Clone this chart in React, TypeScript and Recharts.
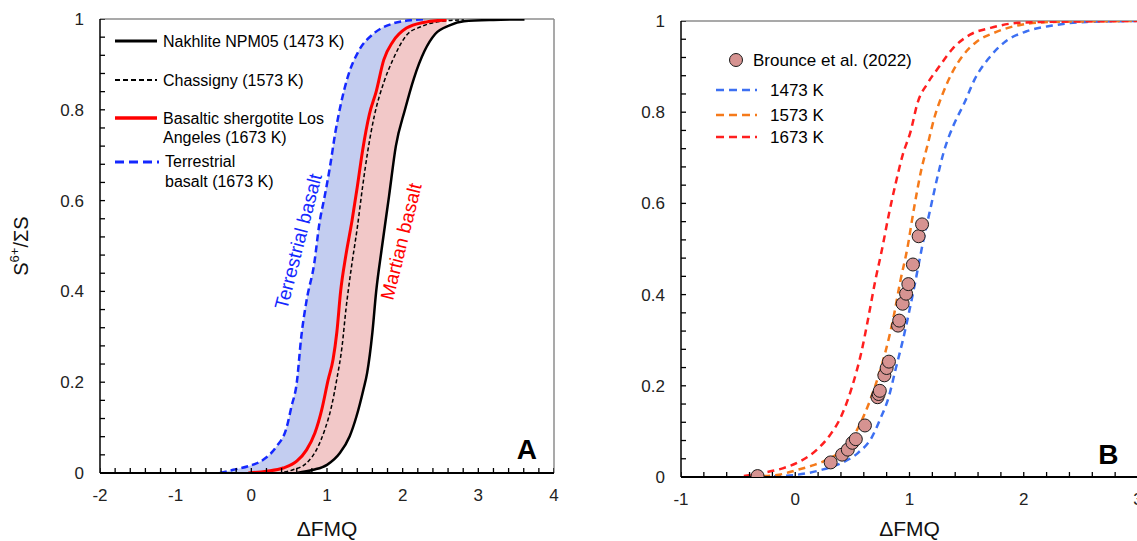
import React from "react";
import {
  ComposedChart,
  Line,
  Area,
  Scatter,
  XAxis,
  YAxis,
  ReferenceLine,
  ReferenceDot,
  Legend,
  Label,
} from "recharts";

const font = '"Liberation Sans", Arial, Helvetica, sans-serif';

// panel A curves, [ΔFMQ, S6+/ΣS]
const nakhlite = [
  [0.6, 0], [0.82, 0.007], [1.0, 0.018], [1.17, 0.044], [1.3, 0.081], [1.39, 0.125],
  [1.48, 0.183], [1.53, 0.22], [1.6, 0.31], [1.65, 0.4], [1.72, 0.49], [1.82, 0.61],
  [1.91, 0.72], [2.03, 0.8], [2.15, 0.87], [2.29, 0.93], [2.43, 0.967], [2.62, 0.986],
  [2.81, 0.995], [3.2, 0.998], [3.61, 0.999],
];
const chassigny = [
  [0.35, 0], [0.55, 0.007], [0.73, 0.022], [0.86, 0.051], [0.97, 0.095], [1.06, 0.147],
  [1.13, 0.207], [1.2, 0.28], [1.25, 0.36], [1.32, 0.45], [1.4, 0.54], [1.47, 0.63],
  [1.54, 0.71], [1.63, 0.79], [1.75, 0.86], [1.87, 0.91], [2.05, 0.964], [2.24, 0.983],
  [2.58, 0.996], [2.81, 0.998],
];
const losAngeles = [
  [-0.04, 0], [0.2, 0.004], [0.42, 0.011], [0.6, 0.026], [0.73, 0.051], [0.84, 0.088],
  [0.93, 0.139], [1.015, 0.205], [1.08, 0.25], [1.13, 0.31], [1.18, 0.4], [1.25, 0.48],
  [1.33, 0.555], [1.4, 0.63], [1.47, 0.71], [1.56, 0.79], [1.65, 0.84], [1.75, 0.91],
  [1.87, 0.95], [2.05, 0.98], [2.29, 0.993], [2.58, 0.998],
];
const terrestrial = [
  [-0.415, 0], [-0.24, 0.007], [-0.02, 0.016], [0.157, 0.029], [0.33, 0.058], [0.466, 0.1],
  [0.53, 0.146], [0.6, 0.198], [0.66, 0.3], [0.73, 0.38], [0.83, 0.46], [0.9, 0.55],
  [0.97, 0.61], [1.04, 0.675], [1.11, 0.75], [1.18, 0.81], [1.27, 0.87], [1.42, 0.93],
  [1.61, 0.967], [1.87, 0.99], [2.15, 0.998], [2.3, 1],
];

// panel B
const k1473 = [
  [-0.29, 0.001], [-0.02, 0.004], [0.22, 0.015], [0.4, 0.03], [0.55, 0.053], [0.67, 0.087],
  [0.74, 0.125], [0.82, 0.177], [0.88, 0.238], [0.94, 0.298], [1.0, 0.366], [1.06, 0.44],
  [1.12, 0.517], [1.18, 0.585], [1.24, 0.653], [1.3, 0.713], [1.39, 0.774], [1.48, 0.82],
  [1.57, 0.872], [1.69, 0.917], [1.84, 0.955], [2.02, 0.977], [2.25, 0.99], [2.55, 0.998],
  [3, 1],
];
const k1573 = [
  [-0.28, 0.002], [-0.14, 0.005], [0.01, 0.015], [0.16, 0.026], [0.28, 0.038], [0.4, 0.057],
  [0.52, 0.094], [0.61, 0.14], [0.7, 0.2], [0.79, 0.275], [0.86, 0.35], [0.92, 0.43],
  [0.98, 0.5], [1.04, 0.59], [1.1, 0.67], [1.16, 0.73], [1.22, 0.79], [1.29, 0.84],
  [1.38, 0.89], [1.47, 0.925], [1.59, 0.955], [1.74, 0.974], [1.98, 0.992], [2.25, 0.998],
  [3, 1],
];
const k1673 = [
  [-0.45, 0.002], [-0.26, 0.01], [-0.11, 0.019], [0.04, 0.034], [0.19, 0.06], [0.31, 0.094],
  [0.4, 0.132], [0.5, 0.2], [0.58, 0.275], [0.64, 0.35], [0.7, 0.43], [0.76, 0.5],
  [0.82, 0.577], [0.88, 0.645], [0.94, 0.706], [1.01, 0.758], [1.07, 0.82], [1.16, 0.864],
  [1.26, 0.9], [1.38, 0.94], [1.53, 0.97], [1.71, 0.985], [1.95, 0.996], [2.19, 0.998],
  [3, 1],
];
const brounce = [
  [-0.33, 0.002], [0.31, 0.032], [0.41, 0.049], [0.46, 0.06], [0.5, 0.075], [0.53, 0.083],
  [0.61, 0.113], [0.72, 0.175], [0.73, 0.182], [0.74, 0.189], [0.78, 0.223], [0.8, 0.239],
  [0.82, 0.253], [0.9, 0.332], [0.91, 0.343], [0.94, 0.38], [0.97, 0.402], [0.99, 0.423],
  [1.03, 0.466], [1.08, 0.528], [1.11, 0.554],
];

const yMajor = [0, 0.2, 0.4, 0.6, 0.8, 1];
const xMajorA = [-2, -1, 0, 1, 2, 3, 4];
const xMajorB = [-1, 0, 1, 2, 3];

const legendA = ["Nakhlite NPM05 (1473 K)", "Chassigny (1573 K)", "Basaltic shergotite Los", "Angeles (1673 K)", "Terrestrial", "basalt (1673 K)"];
const legendB = ["Brounce et al. (2022)", "1473 K", "1573 K", "1673 K"];

const pts = (a: number[][]) => a.map(([x, y]) => ({ x, y }));

// minor ticks between majors
const withMinor = (majors: number[], n: number) => {
  const out: number[] = [];
  for (let i = 0; i < majors.length - 1; i++) {
    const step = (majors[i + 1] - majors[i]) / n;
    for (let k = 0; k < n; k++) out.push(majors[i] + k * step);
  }
  out.push(majors[majors.length - 1]);
  return out;
};
const isIn = (v: number, list: number[]) => list.some((m) => Math.abs(m - v) < 1e-6);
const fmt = (v: number) => String(Math.round(v * 10) / 10);

// inward tick marks, placed through the chart scales
const xMarks = (majors: number[]) => withMinor(majors, 5).map((x) => ({ x, y: 0 }));
const yMarks = (x0: number) => withMinor(yMajor, 5).map((y) => ({ x: x0, y }));
const xMarkShape = (p: any) => <path d={`M${p.cx},${p.cy}V${p.cy - 5}`} stroke="#000" strokeWidth={1.3} fill="none" />;
const yMarkShape = (p: any) => <path d={`M${p.cx},${p.cy}H${p.cx + 5}`} stroke="#000" strokeWidth={1.3} fill="none" />;

const YTick = (p: any) => {
  const v = p.payload.value;
  if (!isIn(v, yMajor)) return <g />;
  return (
    <text x={Number(p.x) - 16} y={p.y} dy={6} textAnchor="end" fontSize={17} fill="#222" fontFamily={font}>
      {fmt(v)}
    </text>
  );
};

const makeXTick = (majors: number[]) => (p: any) => {
  const v = p.payload.value;
  if (!isIn(v, majors)) return <g />;
  return (
    <text x={p.x} y={p.y} dy={28} textAnchor="middle" fontSize={17} fill="#222" fontFamily={font}>
      {fmt(v)}
    </text>
  );
};

const yLabel = (props: any) => {
  const vb = props.viewBox;
  const cx = 21;
  const cy = vb.y + vb.height / 2;
  return (
    <text x={cx} y={cy} transform={`rotate(-90 ${cx} ${cy})`} textAnchor="middle" dominantBaseline="central" fontSize={20} fill="#111" fontFamily={font}>
      S<tspan dy={-7} fontSize={13}>6+</tspan>
      <tspan dy={7}>/ΣS</tspan>
    </text>
  );
};

const rotText = (text: string, color: string, angle: number, size: number) => (p: any) => (
  <text x={p.cx} y={p.cy} transform={`rotate(${angle} ${p.cx} ${p.cy})`} textAnchor="middle" dominantBaseline="central" fill={color} fontSize={size} fontFamily={font}>
    {text}
  </text>
);

const panelText = (text: string) => (p: any) => (
  <text x={p.cx} y={p.cy} textAnchor="middle" dominantBaseline="central" fontWeight="bold" fontSize={28} fill="#000" fontFamily={font}>
    {text}
  </text>
);

const LegendA = () => (
  <svg width={560} height={200} style={{ display: "block" }} fontFamily={font} fontSize={16}>
    <line x1={115} x2={157} y1={41} y2={41} stroke="#000" strokeWidth={3} />
    <text x={163} y={41} dominantBaseline="central">{legendA[0]}</text>
    <line x1={115} x2={157} y1={80} y2={80} stroke="#000" strokeWidth={2} strokeDasharray="5 3" />
    <text x={163} y={80} dominantBaseline="central">{legendA[1]}</text>
    <line x1={115} x2={157} y1={118} y2={118} stroke="#ff0000" strokeWidth={3.5} />
    <text x={163} y={118} dominantBaseline="central">{legendA[2]}</text>
    <text x={163} y={137} dominantBaseline="central">{legendA[3]}</text>
    <line x1={115} x2={159} y1={162} y2={162} stroke="#1428ff" strokeWidth={3} strokeDasharray="9 5" />
    <text x={165} y={161} dominantBaseline="central">{legendA[4]}</text>
    <text x={165} y={181} dominantBaseline="central">{legendA[5]}</text>
  </svg>
);

const bColors = ["#3d70f2", "#f57a1a", "#ff1f1f"];

const LegendB = () => (
  <svg width={580} height={160} style={{ display: "block" }} fontFamily={font} fontSize={17}>
    <circle cx={176} cy={60} r={6.5} fill="#d69391" stroke="#1a1a1a" strokeWidth={1} />
    <text x={193} y={60} dominantBaseline="central">{legendB[0]}</text>
    {[90, 115, 137].map((y, i) => (
      <g key={y}>
        <line x1={156} x2={197} y1={y} y2={y} stroke={bColors[i]} strokeWidth={2.5} strokeDasharray="8 5" />
        <text x={210} y={y} dominantBaseline="central">{legendB[i + 1]}</text>
      </g>
    ))}
  </svg>
);

const PanelA = () => (
  <ComposedChart width={560} height={541} margin={{ top: 19, right: 6, bottom: 0, left: 0 }} style={{ fontFamily: font }}>
    <Area data={pts(terrestrial)} dataKey="y" type="monotone" fill="#c3cdf0" fillOpacity={1} stroke="none" isAnimationActive={false} />
    <Area data={pts(losAngeles)} dataKey="y" type="monotone" fill="#f2c8c8" fillOpacity={1} stroke="none" isAnimationActive={false} />
    <Area data={pts(nakhlite)} dataKey="y" type="monotone" fill="#ffffff" fillOpacity={1} stroke="none" isAnimationActive={false} />
    <ReferenceLine y={1} stroke="#8c8c8c" strokeWidth={1.5} />
    <ReferenceLine x={4} stroke="#8c8c8c" strokeWidth={1.5} />
    <Scatter data={xMarks(xMajorA)} dataKey="y" shape={xMarkShape} isAnimationActive={false} />
    <Scatter data={yMarks(-2)} dataKey="y" shape={yMarkShape} isAnimationActive={false} />
    <Line data={pts(nakhlite)} dataKey="y" type="monotone" stroke="#000" strokeWidth={2.5} dot={false} isAnimationActive={false} />
    <Line data={pts(chassigny)} dataKey="y" type="monotone" stroke="#000" strokeWidth={1.5} strokeDasharray="4 2.5" dot={false} isAnimationActive={false} />
    <Line data={pts(losAngeles)} dataKey="y" type="monotone" stroke="#ff0000" strokeWidth={3} dot={false} isAnimationActive={false} />
    <Line data={pts(terrestrial)} dataKey="y" type="monotone" stroke="#1428ff" strokeWidth={2.5} strokeDasharray="7 4" dot={false} isAnimationActive={false} />
    <ReferenceDot x={0.62} y={0.51} r={0} shape={rotText("Terrestrial basalt", "#1428ff", -75.5, 19)} />
    <ReferenceDot x={1.98} y={0.51} r={0} shape={rotText("Martian basalt", "#ff0000", -76, 19)} />
    <ReferenceDot x={3.64} y={0.051} r={0} shape={panelText("A")} />
    <XAxis dataKey="x" type="number" domain={[-2, 4]} allowDataOverflow ticks={withMinor(xMajorA, 5)} interval={0} height={68}
      tickLine={false} tickSize={0} tickMargin={0} axisLine={{ stroke: "#000", strokeWidth: 2 }} tick={makeXTick(xMajorA)}>
      <Label value="ΔFMQ" position="insideBottom" offset={5} fontSize={21} fill="#111" />
    </XAxis>
    <YAxis type="number" domain={[0, 1]} allowDataOverflow ticks={withMinor(yMajor, 5)} interval={0} width={100}
      tickLine={false} tickSize={0} tickMargin={0} axisLine={{ stroke: "#000", strokeWidth: 1.5 }} tick={YTick}>
      <Label content={yLabel} />
    </YAxis>
    <Legend layout="vertical" align="center" verticalAlign="middle" wrapperStyle={{ left: 0, top: 0, width: 560, height: 200 }} content={() => <LegendA />} />
  </ComposedChart>
);

const PanelB = () => (
  <ComposedChart width={580} height={541} margin={{ top: 21, right: 2, bottom: 0, left: 0 }} style={{ fontFamily: font }}>
    <ReferenceLine y={1} stroke="#8c8c8c" strokeWidth={1.5} />
    <Scatter data={xMarks(xMajorB)} dataKey="y" shape={xMarkShape} isAnimationActive={false} />
    <Scatter data={yMarks(-1)} dataKey="y" shape={yMarkShape} isAnimationActive={false} />
    <Line data={pts(k1473)} dataKey="y" type="monotone" stroke={bColors[0]} strokeWidth={2.5} strokeDasharray="7 5" dot={false} isAnimationActive={false} />
    <Line data={pts(k1573)} dataKey="y" type="monotone" stroke={bColors[1]} strokeWidth={2.5} strokeDasharray="7 5" dot={false} isAnimationActive={false} />
    <Line data={pts(k1673)} dataKey="y" type="monotone" stroke={bColors[2]} strokeWidth={2.5} strokeDasharray="7 5" dot={false} isAnimationActive={false} />
    <Scatter data={pts(brounce)} dataKey="y" isAnimationActive={false}
      shape={(p: any) => <circle cx={p.cx} cy={p.cy} r={6.5} fill="#d69391" stroke="#1a1a1a" strokeWidth={1} />} />
    <ReferenceDot x={2.74} y={0.049} r={0} shape={panelText("B")} />
    <XAxis dataKey="x" type="number" domain={[-1, 3]} allowDataOverflow ticks={withMinor(xMajorB, 5)} interval={0} height={64}
      tickLine={false} tickSize={0} tickMargin={0} axisLine={{ stroke: "#000", strokeWidth: 2 }} tick={makeXTick(xMajorB)}>
      <Label value="ΔFMQ" position="insideBottom" offset={5} fontSize={21} fill="#111" />
    </XAxis>
    <YAxis type="number" domain={[0, 1]} allowDataOverflow ticks={withMinor(yMajor, 5)} interval={0} width={121}
      tickLine={false} tickSize={0} tickMargin={0} axisLine={{ stroke: "#000", strokeWidth: 1.5 }} tick={YTick} />
    <Legend layout="vertical" align="center" verticalAlign="middle" wrapperStyle={{ left: 0, top: 0, width: 580, height: 160 }} content={() => <LegendB />} />
  </ComposedChart>
);

export default function App() {
  return (
    <div style={{ position: "absolute", left: 0, top: 0, width: 1137, height: 541, overflow: "hidden", background: "#fff" }}>
      <div style={{ position: "absolute", left: 0, top: 0 }}>
        <PanelA />
      </div>
      <div style={{ position: "absolute", left: 560, top: 0 }}>
        <PanelB />
      </div>
    </div>
  );
}
